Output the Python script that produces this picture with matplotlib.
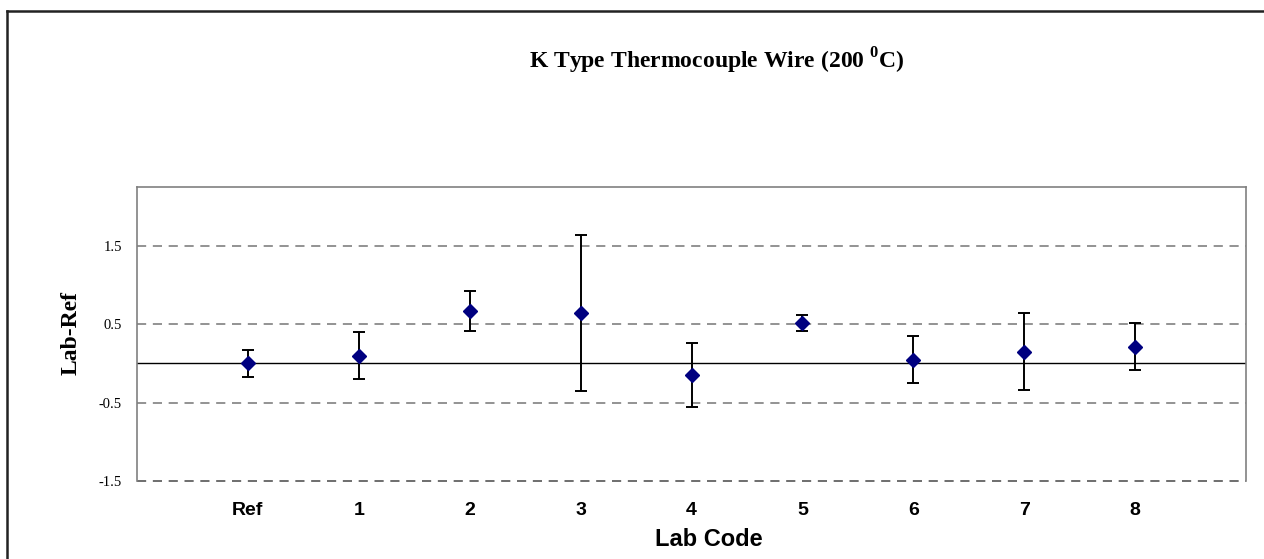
import numpy as np
import matplotlib.pyplot as plt
from matplotlib.lines import Line2D

# data
labs = ['Ref', '1', '2', '3', '4', '5', '6', '7', '8']
lab_ref = [0.0, 0.10, 0.665, 0.64, -0.15, 0.515, 0.045, 0.15, 0.215]
uncert = [0.175, 0.30, 0.255, 0.995, 0.41, 0.10, 0.30, 0.49, 0.30]
y_ticks = [-1.5, -0.5, 0.5, 1.5]

plt.rcParams['mathtext.fontset'] = 'custom'
plt.rcParams['mathtext.bf'] = 'Liberation Serif:bold'
plt.rcParams['mathtext.rm'] = 'Liberation Serif:bold'

fig = plt.figure(figsize=(12.64, 5.59), dpi=100)
ax = fig.add_axes([137 / 1264, 1 - 481.3 / 559, (1246 - 137) / 1264, (481.3 - 186.7) / 559])

x = np.arange(1, len(labs) + 1)

# grid lines
for yv in y_ticks:
    c = '#555555' if yv == y_ticks[0] else '#808080'
    ax.axhline(yv, color=c, lw=1.2, ls=(0, (5.5, 4)), zorder=1, clip_on=False)
ax.axhline(0, color='black', lw=1.0, zorder=1)

ax.errorbar(x, lab_ref, yerr=uncert, fmt='D', color='#000080', ms=7,
            ecolor='black', elinewidth=1.4, capsize=4.5, capthick=1.4, zorder=3)

ax.set_xlim(0, 10)
ax.set_ylim(-1.5, 2.25)
ax.set_xticks(x)
ax.set_xticklabels(labs, fontfamily='Liberation Sans', fontweight='bold', fontsize=14)
ax.set_yticks(y_ticks)
ax.set_yticklabels([str(v) for v in y_ticks], fontfamily='Liberation Serif', fontsize=10.5)
ax.tick_params(axis='x', length=0, pad=15)
ax.tick_params(axis='y', length=0, pad=11)

for s in ['left', 'top', 'right']:
    ax.spines[s].set_color('#808080')
    ax.spines[s].set_linewidth(1.2)
ax.spines['bottom'].set_visible(False)

fig.text(717 / 1264, 1 - 68 / 559, r'K Type Thermocouple Wire (200 $^{\mathbf{0}}$C)',
         ha='center', va='baseline', fontfamily='Liberation Serif', fontweight='bold', fontsize=17)
fig.text(71 / 1264, 1 - 333 / 559, 'Lab-Ref', rotation=90, ha='center', va='center',
         fontfamily='Liberation Serif', fontweight='bold', fontsize=17)
fig.text(709 / 1264, 1 - 539 / 559, 'Lab Code', ha='center', va='center',
         fontfamily='Liberation Sans', fontweight='bold', fontsize=17)

# outer chart border (cropped on the right and bottom)
fig.add_artist(Line2D([7 / 1264, 7 / 1264], [0, 1 - 11 / 559], transform=fig.transFigure,
                      color='#222222', lw=1.8))
fig.add_artist(Line2D([7 / 1264, 1], [1 - 11 / 559, 1 - 11 / 559], transform=fig.transFigure,
                      color='#222222', lw=1.8))

fig.savefig('out.png', dpi=100)
